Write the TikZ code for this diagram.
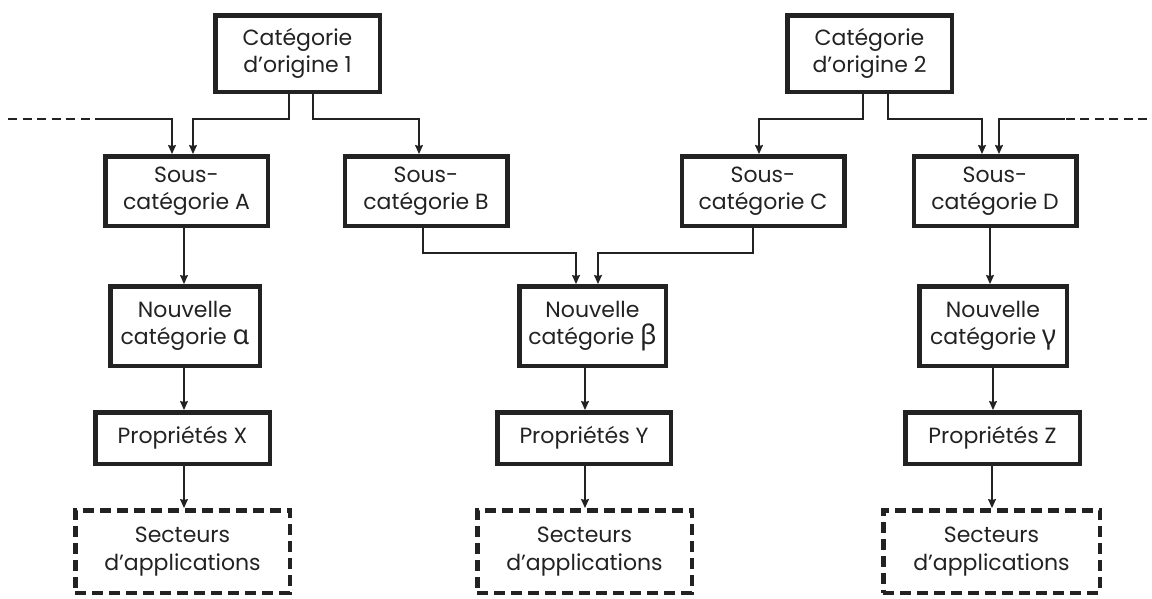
\documentclass[tikz,border=0pt]{standalone}
\usepackage{fontspec}
\setmainfont{Poppins}
\newfontfamily\grk{Noto Sans}
\usetikzlibrary{arrows.meta}
\definecolor{ink}{HTML}{222222}
\begin{document}
\begin{tikzpicture}[x=1pt,y=-1pt,
  box/.style={draw=ink, line width=4.5pt, align=center, text=ink, inner sep=0pt,
    font=\fontsize{22}{27.5}\selectfont},
  dbox/.style={box, dash pattern=on 11pt off 6pt},
  conn/.style={draw=ink, line width=1.3pt, -{Stealth[length=9pt,width=8pt,inset=1pt]}},
  plain/.style={draw=ink, line width=1.3pt},
  dashline/.style={draw=ink, line width=1.3pt, dash pattern=on 9pt off 5.5pt}]
\useasboundingbox (0,0) rectangle (1152,598);

% top categories
\node[box, minimum width=164.5pt, minimum height=76.5pt] (c1) at (297.5,53.5) {Catégorie\\d’origine 1};
\node[box, minimum width=164.5pt, minimum height=76.5pt] (c2) at (869.5,53.5) {Catégorie\\d’origine 2};

% sub-categories
\node[box, minimum width=162.5pt, minimum height=69.5pt] (sA) at (186.5,191) {Sous-\\catégorie A};
\node[box, minimum width=162.5pt, minimum height=69.5pt] (sB) at (426,191) {Sous-\\catégorie B};
\node[box, minimum width=162.5pt, minimum height=69.5pt] (sC) at (763,191) {Sous-\\catégorie C};
\node[box, minimum width=162.5pt, minimum height=69.5pt] (sD) at (995,191) {Sous-\\catégorie D};

% new categories
\node[box, minimum width=149.5pt, minimum height=79.5pt] (nA) at (185,326) {Nouvelle\\catégorie {\grk\fontsize{27}{27.5}\selectfont α}};
\node[box, minimum width=146.5pt, minimum height=79.5pt] (nB) at (592.5,326) {Nouvelle\\catégorie {\grk\fontsize{27}{27.5}\selectfont β}};
\node[box, minimum width=147.5pt, minimum height=79.5pt] (nC) at (993,326) {Nouvelle\\catégorie {\grk\fontsize{27}{27.5}\selectfont γ}};

% properties
\node[box, minimum width=174.5pt, minimum height=51.5pt] (pX) at (182.5,438) {Propriétés X};
\node[box, minimum width=173.5pt, minimum height=51.5pt] (pY) at (584,438) {Propriétés Y};
\node[box, minimum width=174.5pt, minimum height=51.5pt] (pZ) at (992.5,438) {Propriétés Z};

% application sectors
\node[dbox, minimum width=214.5pt, minimum height=82.5pt] (aX) at (182.5,551.5) {Secteurs\\d’applications};
\node[dbox, minimum width=214.5pt, minimum height=82.5pt] (aY) at (584.5,551.5) {Secteurs\\d’applications};
\node[dbox, minimum width=216.5pt, minimum height=82.5pt] (aZ) at (991.5,551.5) {Secteurs\\d’applications};

% junction coordinates
\coordinate (a1) at (193,119);
\coordinate (a2) at (172,119);
\coordinate (dl0) at (8,119);
\coordinate (dl1) at (100,119);
\coordinate (b1) at (419,119);
\coordinate (cc1) at (759,119);
\coordinate (d1) at (982,119);
\coordinate (d2) at (999,119);
\coordinate (dr0) at (1147,119);
\coordinate (dr1) at (1065,119);
\coordinate (m1) at (576,253);
\coordinate (m2) at (598,253);
\coordinate (colA) at (184,0);
\coordinate (colB) at (585,0);
\coordinate (colD1) at (990,0);
\coordinate (colD2) at (993,0);
\coordinate (colD3) at (992,0);

% top connectors
\draw[conn] ([xshift=-8.5pt]c1.south) |- (a1) -- (a1 |- sA.north);
\draw[conn] ([xshift=15.5pt]c1.south) |- (b1) -- (b1 |- sB.north);
\draw[dashline] (dl0) -- (dl1);
\draw[conn] (dl1) -- (a2) -- (a2 |- sA.north);
\draw[conn] ([xshift=-6.5pt]c2.south) |- (cc1) -- (cc1 |- sC.north);
\draw[conn] ([xshift=18.5pt]c2.south) |- (d1) -- (d1 |- sD.north);
\draw[dashline] (dr0) -- (dr1);
\draw[conn] (dr1) -- (d2) -- (d2 |- sD.north);

% middle connectors
\draw[conn] ([xshift=-3pt]sB.south) |- (m1) -- (m1 |- nB.north);
\draw[conn] ([xshift=-10pt]sC.south) |- (m2) -- (m2 |- nB.north);
\draw[conn] (colA |- sA.south) -- (colA |- nA.north);
\draw[conn] (colD1 |- sD.south) -- (colD1 |- nC.north);

% lower connectors
\draw[conn] (colA |- nA.south) -- (colA |- pX.north);
\draw[conn] (colB |- nB.south) -- (colB |- pY.north);
\draw[conn] (colD2 |- nC.south) -- (colD2 |- pZ.north);
\draw[conn] (colA |- pX.south) -- (colA |- aX.north);
\draw[conn] (colB |- pY.south) -- (colB |- aY.north);
\draw[conn] (colD3 |- pZ.south) -- (colD3 |- aZ.north);
\end{tikzpicture}
\end{document}
